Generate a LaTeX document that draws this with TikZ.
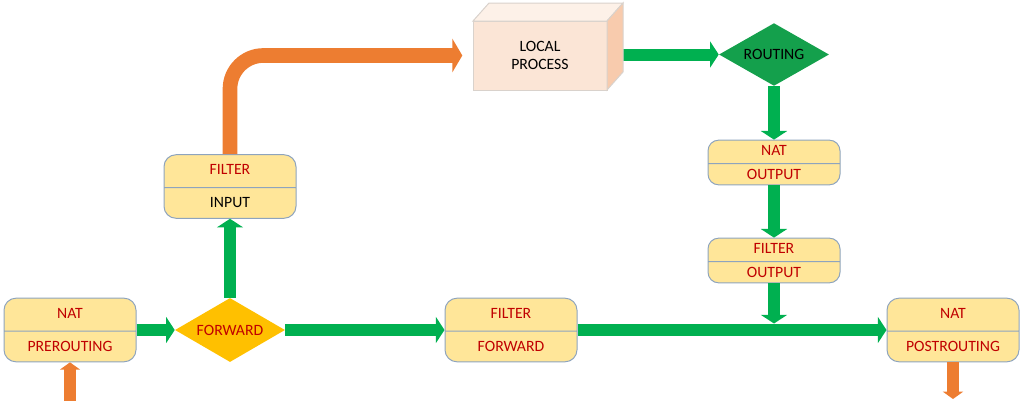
\documentclass[tikz,border=0pt]{standalone}
\usepackage{fontspec}
\setmainfont{Carlito}
\usetikzlibrary{shapes.geometric,shapes.multipart,arrows.meta}
\definecolor{boxfill}{HTML}{FFE699}
\definecolor{boxline}{HTML}{8EA4BE}
\definecolor{natred}{HTML}{C00000}
\definecolor{flowgreen}{HTML}{00B050}
\definecolor{routegreen}{HTML}{14A04C}
\definecolor{floworange}{HTML}{ED7D31}
\definecolor{fwdyellow}{HTML}{FFC000}
\definecolor{cubefront}{HTML}{FBE5D6}
\definecolor{cubetop}{HTML}{FDF1E8}
\definecolor{cubeside}{HTML}{F8CBAD}
\definecolor{cubeline}{HTML}{D9D2CC}
\tikzset{
  chainbox/.style={rectangle split, rectangle split parts=2, draw=boxline, fill=boxfill,
    line width=0.75pt, text width=91pt, align=center, inner xsep=4pt,
    text height=7.5pt, text depth=2pt, text=natred, font=\fontsize{11.8}{14}\selectfont},
  bigbox/.style={chainbox, inner ysep=7.25pt, rounded corners=9pt},
  smallbox/.style={chainbox, inner ysep=3.7pt, rounded corners=8pt},
  decide/.style={diamond, aspect=1.75, inner sep=0pt, minimum width=82.5pt, minimum height=48pt,
    font=\fontsize{11.8}{14}\selectfont},
  greenflow/.style={draw=flowgreen, line width=9pt, -{Triangle[length=6.5pt,width=19.5pt]}},
  orangeflow/.style={draw=floworange, line width=11pt, -{Triangle[length=7.5pt,width=25pt]}},
  smallorange/.style={draw=floworange, line width=9pt, -{Triangle[length=5.5pt,width=15pt]}}
}
\begin{document}
\begin{tikzpicture}[x=0.75pt,y=-0.75pt]
  \useasboundingbox (0,0) rectangle (1022,401);
  \node[bigbox] (natpre) at (70,330) {NAT\nodepart{two}PREROUTING};
  \node[decide, fill=fwdyellow, text=natred] (fwd) at (230,330) {FORWARD};
  \node[bigbox] (filin) at (230,186.5) {FILTER\nodepart{two}\textcolor{black}{INPUT}};
  \node[bigbox] (filfwd) at (511,330) {FILTER\nodepart{two}FORWARD};
  \node[bigbox] (natpost) at (953,330) {NAT\nodepart{two}POSTROUTING};
  \node[fill=cubefront, draw=cubeline, line width=0.75pt, outer sep=0pt, minimum width=100.5pt,
    minimum height=51.75pt, align=center, font=\fontsize{11.8}{14}\selectfont] (local) at (540,55.5) {LOCAL\\PROCESS};
  \node[decide, fill=routegreen, minimum height=47pt] (route) at (774,54.5) {ROUTING};
  \node[smallbox] (natout) at (774,162.5) {NAT\nodepart{two}OUTPUT};
  \node[smallbox] (filout) at (774,260.5) {FILTER\nodepart{two}OUTPUT};
  \coordinate (pktin) at (70,401);
  \coordinate (pktout) at (953,399);
  \coordinate (join) at (774,323.5);

  \draw[greenflow] (local.east |- route.west) -- (route.west);
  \filldraw[fill=cubetop, draw=cubeline, line width=0.75pt] (local.north west) -- ([shift={(16,-18)}]local.north west)
    -- ([shift={(16,-18)}]local.north east) -- (local.north east) -- cycle;
  \filldraw[fill=cubeside, draw=cubeline, line width=0.75pt] (local.north east) -- ([shift={(16,-18)}]local.north east)
    -- ([shift={(16,-18)}]local.south east) -- (local.south east) -- cycle;

  \draw[smallorange] (pktin) -- (natpre.south);
  \draw[greenflow] (natpre.east) -- (fwd.west);
  \draw[greenflow] (fwd.north) -- (filin.south);
  \draw[orangeflow, rounded corners=25pt, shorten >=8pt] (filin.north) |- (local.west);
  \draw[greenflow] (fwd.east) -- (filfwd.west);
  \draw[greenflow] (filfwd.east) -- (natpost.west);
  \draw[greenflow] (route.south) -- (natout.north);
  \draw[greenflow] (natout.south) -- (filout.north);
  \draw[greenflow] (filout.south) -- (join);
  \draw[smallorange] (natpost.south) -- (pktout);
\end{tikzpicture}
\end{document}
